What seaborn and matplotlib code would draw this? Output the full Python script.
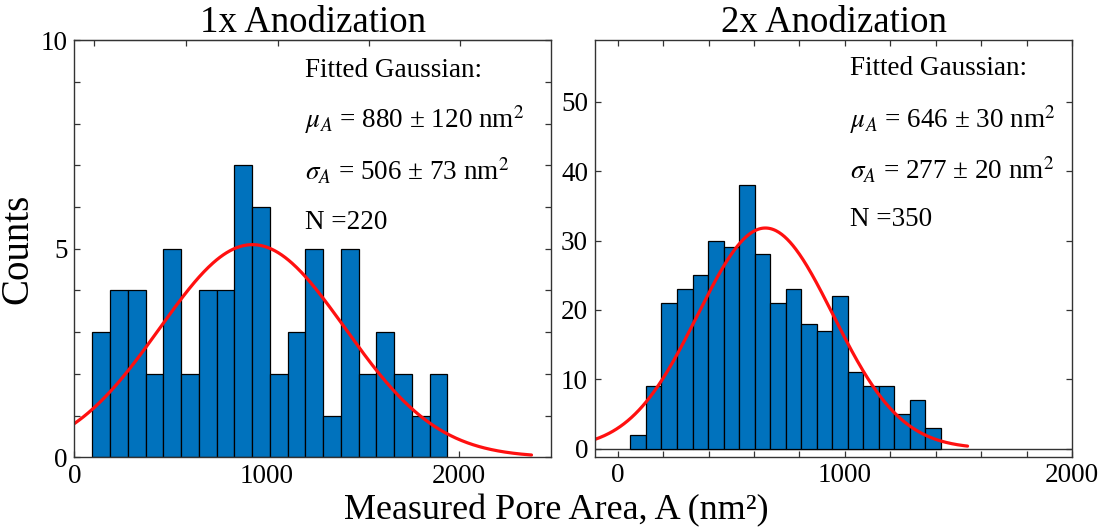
import numpy as np
import pandas as pd
import matplotlib
matplotlib.use("Agg")
import matplotlib.pyplot as plt
import seaborn as sns
from matplotlib.ticker import MultipleLocator, FixedLocator, NullFormatter

# ---------------- data ----------------
left_title = "1x Anodization"
left_counts = [3, 4, 4, 2, 5, 2, 4, 4, 7, 6, 2, 3, 5, 1, 5, 2, 3, 2, 1, 2]
left_bin_start = 94.0
left_bin_width = 92.4
left_fit_amp, left_fit_mu, left_fit_sigma = 5.1, 927.0, 483.0
left_fit_xrange = (0.0, 2380.0)
left_text = ["Fitted Gaussian:",
             r"$\mu_A$ = 880 ± 120 nm$^2$",
             r"$\sigma_A$ = 506 ± 73 nm$^2$",
             "N =220"]

right_title = "2x Anodization"
right_counts = [2, 9, 21, 23, 25, 30, 29, 38, 28, 21, 23, 18, 17, 22, 11, 9, 9, 5, 7, 3]
right_bin_start = 56.0
right_bin_width = 68.3
right_fit_amp, right_fit_mu, right_fit_sigma = 31.8, 650.0, 298.0
right_fit_xrange = (-100.0, 1540.0)
right_text = ["Fitted Gaussian:",
              r"$\mu_A$ = 646 ± 30 nm$^2$",
              r"$\sigma_A$ = 277 ± 20 nm$^2$",
              "N =350"]

x_label = "Measured Pore Area, A (nm\u00b2)"
y_label = "Counts"

# ---------------- style ----------------
sns.set_style("ticks")
plt.rcParams["font.family"] = ["Liberation Serif", "DejaVu Serif"]
plt.rcParams["mathtext.fontset"] = "stix"
plt.rcParams["text.color"] = "black"
plt.rcParams["axes.labelcolor"] = "black"
plt.rcParams["xtick.labelcolor"] = "black"
plt.rcParams["ytick.labelcolor"] = "black"

BAR = "#0072BD"
SPINE = "#333333"
TICK_FS = 19.5

fig = plt.figure(figsize=(11.13, 5.31), dpi=100)
ax1 = fig.add_axes([0.0668, 0.1388, 0.428, 0.7853])
ax2 = fig.add_axes([0.5346, 0.1394, 0.4286, 0.7853])


def draw_panel(ax, counts, start, width, amp, mu, sigma, xr):
    n = len(counts)
    edges = [start + width * i for i in range(n + 1)]
    centers = [0.5 * (edges[i] + edges[i + 1]) for i in range(n)]
    df = pd.DataFrame({"area": centers, "count": counts})
    sns.histplot(data=df, x="area", weights="count", bins=edges, ax=ax,
                 color=BAR, edgecolor="black", linewidth=0.9, alpha=1.0)
    xs = np.linspace(xr[0], xr[1], 400)
    ys = amp * np.exp(-(xs - mu) ** 2 / (2 * sigma ** 2))
    sns.lineplot(x=xs, y=ys, ax=ax, color="#ff1010", linewidth=2.3)
    ax.set_xlabel("")
    ax.set_ylabel("")
    for s in ax.spines.values():
        s.set_visible(True)
        s.set_color(SPINE)
        s.set_linewidth(1.0)


draw_panel(ax1, left_counts, left_bin_start, left_bin_width,
           left_fit_amp, left_fit_mu, left_fit_sigma, left_fit_xrange)
draw_panel(ax2, right_counts, right_bin_start, right_bin_width,
           right_fit_amp, right_fit_mu, right_fit_sigma, right_fit_xrange)

# ---- left axes ----
ax1.set_xlim(0, 2480)
ax1.set_ylim(0, 10)
ax1.xaxis.set_major_locator(FixedLocator([0, 1000, 2000]))
ax1.yaxis.set_major_locator(FixedLocator([0, 5, 10]))
ax1.yaxis.set_minor_locator(MultipleLocator(1))
ax1.tick_params(axis="both", which="both", direction="in", length=4,
                width=0.9, color=SPINE, labelsize=TICK_FS, labelcolor="black")
ax1.tick_params(axis="y", which="both", left=True, right=True, pad=5)
ax1.tick_params(axis="x", which="both", bottom=True, top=False, pad=4.5)
sec = ax1.secondary_xaxis("top")
sec.xaxis.set_major_locator(FixedLocator([100, 580, 1060, 1535, 2010]))
sec.xaxis.set_major_formatter(NullFormatter())
sec.tick_params(direction="in", length=4, width=0.9, color=SPINE)
sec.spines["top"].set_color(SPINE)

# ---- right axes ----
ax2.set_xlim(-100, 2000)
ax2.set_ylim(-1.2, 58.9)
ax2.axhline(0, color=SPINE, linewidth=1.0, zorder=0.5)
ax2.xaxis.set_major_locator(FixedLocator([0, 1000, 2000]))
ax2.xaxis.set_minor_locator(MultipleLocator(200))
ax2.yaxis.set_major_locator(FixedLocator([0, 10, 20, 30, 40, 50]))
ax2.tick_params(axis="both", which="both", direction="in", length=4,
                width=0.9, color=SPINE, labelsize=TICK_FS, labelcolor="black")
ax2.tick_params(axis="y", which="both", left=True, right=True, pad=5)
ax2.tick_params(axis="x", which="both", bottom=True, top=True, pad=4.5)

# ---- titles, annotation text ----
for ax, title, lines, x0, ys in [
        (ax1, left_title, left_text, 0.484, [0.913, 0.790, 0.665, 0.548]),
        (ax2, right_title, right_text, 0.535, [0.916, 0.790, 0.665, 0.553])]:
    ax.set_title(title, fontsize=26.5, pad=5, color="black")
    for line, y in zip(lines, ys):
        ax.text(x0, y, line, transform=ax.transAxes, fontsize=19.5,
                ha="left", va="baseline", color="black")

ax1.set_ylabel(y_label, fontsize=28, color="black")
ax1.yaxis.set_label_coords(-0.08, 0.5)
fig.text(0.5, 0.022, x_label, fontsize=26, ha="center", va="baseline",
         color="black")

fig.savefig("out.png", dpi=100)
